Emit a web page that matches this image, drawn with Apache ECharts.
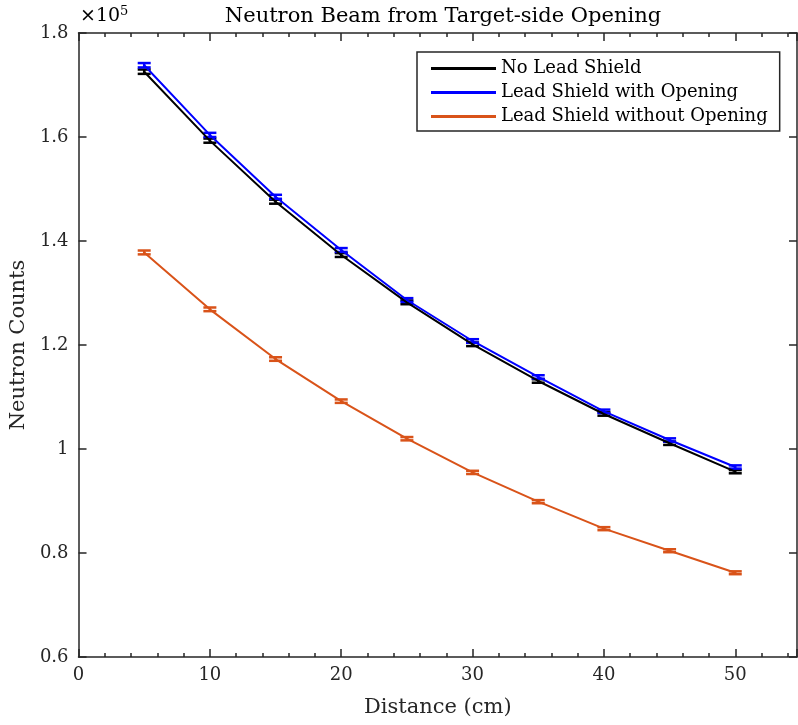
<!DOCTYPE html>
<html>
<head>
<meta charset="utf-8">
<script src="https://cdn.jsdelivr.net/npm/echarts@6/dist/echarts.min.js"></script>
<style>
  html, body { margin: 0; padding: 0; background: #fff; }
  #chart { width: 798px; height: 725px; }
</style>
</head>
<body>
<div id="chart"></div>
<script>
// distances (cm)
const distances = [5, 10, 15, 20, 25, 30, 35, 40, 45, 50];

// neutron counts per configuration
const noShield = [172560, 159300, 147560, 137300, 128200, 120130, 113080, 106730, 101100, 95640];
const shieldOpen = [173800, 160400, 148500, 138270, 128650, 120770, 113850, 107250, 101730, 96540];
const shieldClosed = [137800, 126860, 117300, 109200, 101980, 95500, 89870, 84680, 80440, 76200];

// error bar half heights
const noShieldErr = [420, 400, 385, 370, 360, 345, 335, 325, 320, 310];
const shieldOpenErr = [420, 400, 385, 370, 360, 345, 335, 325, 320, 310];
const shieldClosedErr = [370, 355, 340, 330, 320, 310, 300, 290, 285, 275];

const seriesNames = ['No Lead Shield', 'Lead Shield with Opening', 'Lead Shield without Opening'];
const colors = ['#000000', '#0000ff', '#d95319'];

const FONT = 'DejaVu Serif';
const AXIS_COLOR = '#262626';

function pairs(ys) {
  return distances.map((x, i) => [x, ys[i]]);
}

function errorSeries(ys, errs, color) {
  return {
    type: 'custom',
    data: distances.map((x, i) => [x, ys[i] - errs[i], ys[i] + errs[i]]),
    renderItem: function (params, api) {
      const lo = api.coord([api.value(0), api.value(1)]);
      const hi = api.coord([api.value(0), api.value(2)]);
      const w = 6.5;
      const style = { stroke: color, lineWidth: 2.5 };
      return {
        type: 'group',
        children: [
          { type: 'line', shape: { x1: lo[0], y1: lo[1], x2: hi[0], y2: hi[1] }, style: style },
          { type: 'line', shape: { x1: lo[0] - w, y1: lo[1], x2: lo[0] + w, y2: lo[1] }, style: style },
          { type: 'line', shape: { x1: hi[0] - w, y1: hi[1], x2: hi[0] + w, y2: hi[1] }, style: style }
        ]
      };
    },
    encode: { x: 0, y: [1, 2] },
    silent: true
  };
}

const chart = echarts.init(document.getElementById('chart'));

const lineStyleAxis = { color: AXIS_COLOR, width: 1.5 };

chart.setOption({
  animation: false,
  title: {
    text: 'Neutron Beam from Target-side Opening',
    left: 438,
    top: 1,
    textAlign: 'center',
    textStyle: { fontFamily: FONT, fontWeight: 'normal', fontSize: 21, color: '#000' }
  },
  graphic: [{
    type: 'text',
    left: 80,
    top: 5,
    style: {
      text: '{a|×10}{b|5}',
      rich: {
        a: { fontFamily: FONT, fontSize: 19, color: AXIS_COLOR },
        b: { fontFamily: FONT, fontSize: 13, color: AXIS_COLOR, verticalAlign: 'top', padding: [0, 0, 10, 0] }
      }
    }
  }],
  legend: {
    data: seriesNames,
    orient: 'vertical',
    left: 417,
    top: 52,
    padding: [5, 12, 3, 14],
    itemWidth: 65,
    itemHeight: 3,
    itemGap: 1,
    icon: 'rect',
    borderColor: AXIS_COLOR,
    borderWidth: 1.5,
    backgroundColor: '#fff',
    textStyle: { fontFamily: FONT, fontSize: 18, color: '#000', lineHeight: 23 }
  },
  grid: { left: 78, right: 1, top: 33, bottom: 68 },
  xAxis: [{
    type: 'value',
    min: 0,
    max: 54.7,
    interval: 10,
    name: 'Distance (cm)',
    nameLocation: 'middle',
    nameGap: 40,
    nameTextStyle: { fontFamily: FONT, fontSize: 21, color: AXIS_COLOR },
    axisLine: { show: true, onZero: false, lineStyle: lineStyleAxis },
    axisTick: { show: true, inside: true, length: 8, lineStyle: { color: AXIS_COLOR, width: 1.5 } },
    minorTick: { show: true, splitNumber: 5, length: 4, lineStyle: { color: AXIS_COLOR, width: 1.5 } },
    axisLabel: { margin: 9, fontFamily: FONT, fontSize: 18, color: AXIS_COLOR, showMaxLabel: false },
    splitLine: { show: false }
  }, {
    type: 'value',
    position: 'top',
    min: 0,
    max: 54.7,
    interval: 10,
    axisLine: { show: true, onZero: false, lineStyle: lineStyleAxis },
    axisTick: { show: true, inside: true, length: 8, lineStyle: { color: AXIS_COLOR, width: 1.5 } },
    minorTick: { show: true, splitNumber: 5, length: 4, lineStyle: { color: AXIS_COLOR, width: 1.5 } },
    axisLabel: { show: false },
    splitLine: { show: false }
  }],
  yAxis: [{
    type: 'value',
    min: 60000,
    max: 180000,
    interval: 20000,
    name: 'Neutron Counts',
    nameLocation: 'middle',
    nameGap: 47,
    nameTextStyle: { fontFamily: FONT, fontSize: 21, color: AXIS_COLOR },
    axisLine: { show: true, onZero: false, lineStyle: lineStyleAxis },
    axisTick: { show: true, inside: true, length: 8, lineStyle: { color: AXIS_COLOR, width: 1.5 } },
    axisLabel: { margin: 10, fontFamily: FONT, fontSize: 18, color: AXIS_COLOR, formatter: v => String(v / 1e5) },
    splitLine: { show: false }
  }, {
    type: 'value',
    position: 'right',
    min: 60000,
    max: 180000,
    interval: 20000,
    axisLine: { show: true, onZero: false, lineStyle: lineStyleAxis },
    axisTick: { show: true, inside: true, length: 8, lineStyle: { color: AXIS_COLOR, width: 1.5 } },
    axisLabel: { show: false },
    splitLine: { show: false }
  }],
  series: [
    { name: seriesNames[0], type: 'line', data: pairs(noShield), symbol: 'none', lineStyle: { width: 2, color: colors[0] }, itemStyle: { color: colors[0] } },
    errorSeries(noShield, noShieldErr, colors[0]),
    { name: seriesNames[1], type: 'line', data: pairs(shieldOpen), symbol: 'none', lineStyle: { width: 2, color: colors[1] }, itemStyle: { color: colors[1] } },
    errorSeries(shieldOpen, shieldOpenErr, colors[1]),
    { name: seriesNames[2], type: 'line', data: pairs(shieldClosed), symbol: 'none', lineStyle: { width: 2, color: colors[2] }, itemStyle: { color: colors[2] } },
    errorSeries(shieldClosed, shieldClosedErr, colors[2])
  ]
});
</script>
</body>
</html>
